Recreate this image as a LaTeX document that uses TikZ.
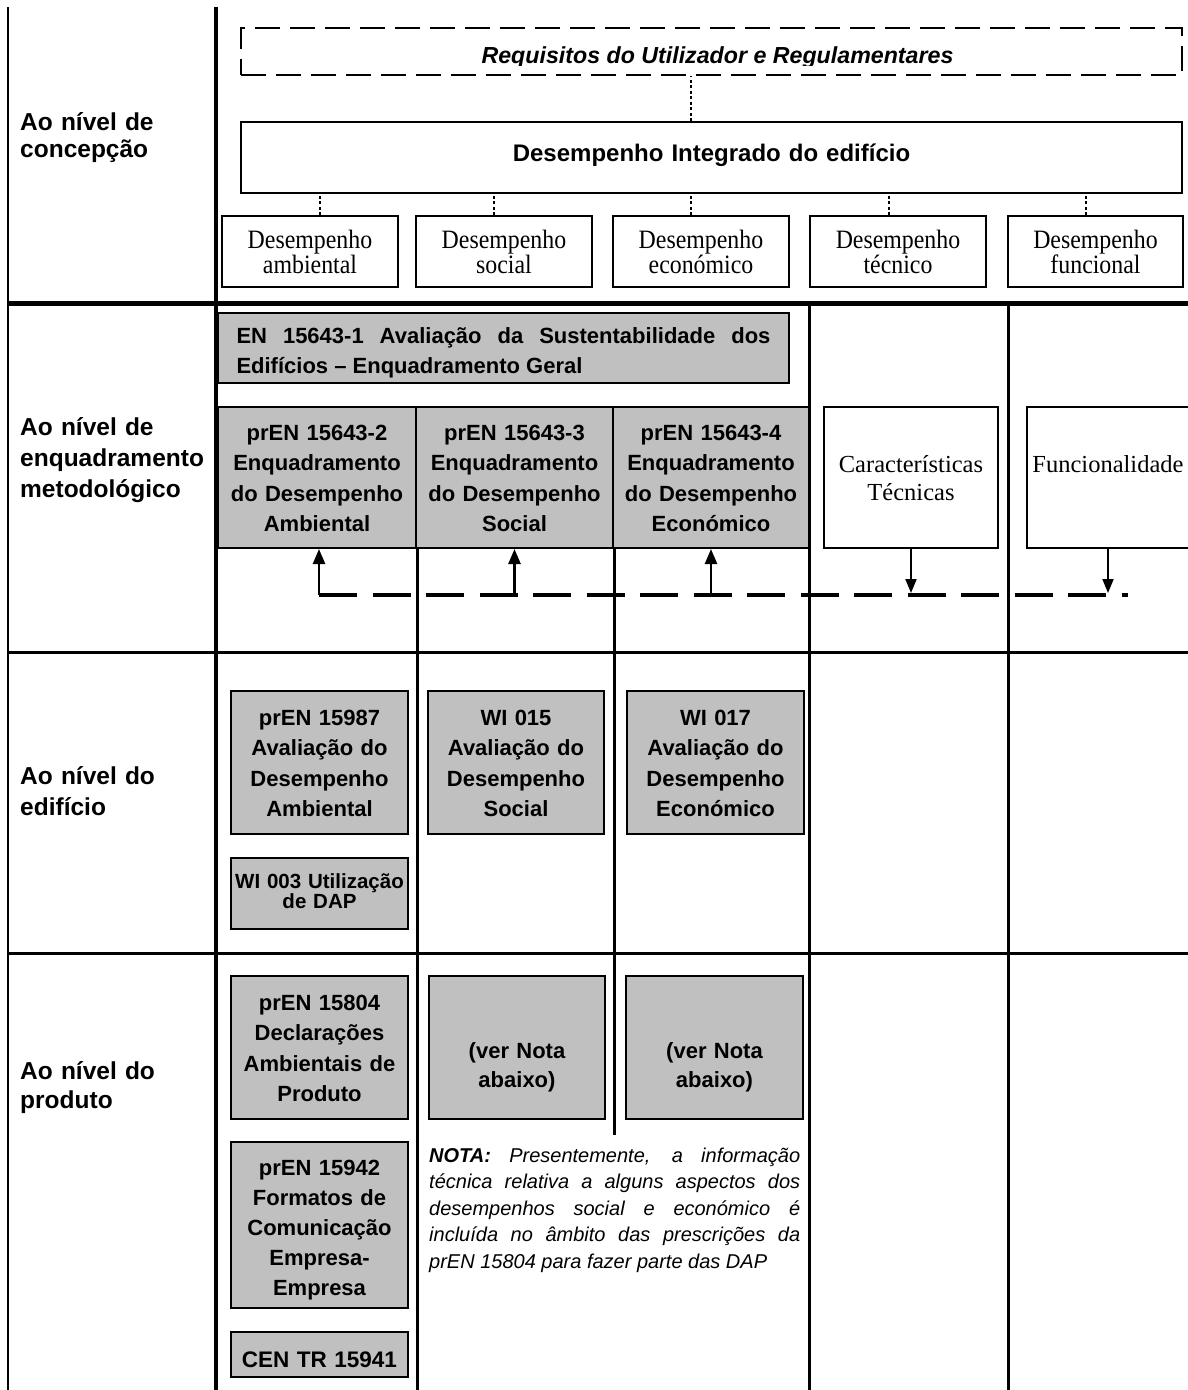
\documentclass[tikz,border=0pt]{standalone}
\usepackage{fontspec}
\setmainfont{Liberation Sans}
\newfontfamily\tnr{Liberation Serif}
\newfontfamily\tnrnarrow[FakeStretch=0.9]{Liberation Serif}
\usetikzlibrary{arrows.meta}
\definecolor{boxgray}{RGB}{192,192,192}
\hyphenpenalty=10000
\exhyphenpenalty=10000
\begin{document}
\begin{tikzpicture}[x=1pt,y=-1pt,
  lab/.style={anchor=base west, inner sep=0pt, text width=195pt, align=left},
  labfont/.style={font=\fontsize{24.5}{#1}\selectfont\bfseries},
  gbox/.style={draw=black, line width=2pt, fill=boxgray, inner sep=0pt, align=center, anchor=base,
    font=\fontsize{22}{30.5}\selectfont\bfseries},
  wbox/.style={draw=black, line width=2pt, fill=white, inner sep=0pt, align=center, anchor=base},
  perf/.style={wbox, text width=176pt, text height=32pt, text depth=39pt,
    font=\tnrnarrow\fontsize{26.5}{24}\selectfont},
  reqbox/.style={draw=black, line width=2.5pt, dash pattern=on 25pt off 10pt, inner sep=0pt},
  dotlink/.style={line width=2pt, dash pattern=on 3pt off 2.5pt},
  rule/.style={line width=3pt},
  bus/.style={line width=4pt, dash pattern=on 38pt off 15.5pt},
  upline/.style={line width=2.5pt, -{Triangle[length=15pt,width=12pt]}},
  downline/.style={line width=2pt, -{Triangle[length=14pt,width=11pt]}, shorten >=2pt}]

\useasboundingbox (0,0) rectangle (1188,1390);
\fill[white] (0,0) rectangle (1188,1390);

% table grid
\draw[line width=2.5pt] (8,7) -- (8,1390);
\draw[line width=3.5pt] (216,7) -- (216,1390);
\draw[line width=5pt] (8,303) -- (1188,303);
\draw[rule] (8,652) -- (1188,652);
\draw[rule] (8,953) -- (1188,953);
\draw[rule] (809,303) -- (809,1390);
\draw[rule] (1008,303) -- (1008,1390);

% row labels
\node[lab, labfont=27] (lab1) at (20,130) {Ao nível de\\concepção};
\node[lab, labfont=31] (lab2) at (20,435) {Ao nível de\\enquadramento\\metodológico};
\node[lab, labfont=31] (lab3) at (20,784) {Ao nível do\\edifício};
\node[lab, labfont=29] (lab4) at (20,1079) {Ao nível do\\produto};

% conception level
\node[reqbox, minimum width=941pt, minimum height=47pt] (req) at (711.5,51.5) {};
\begin{scope}
  \clip (241,28) rectangle (1182,65.5);
  \node[anchor=base, inner sep=0pt, font=\fontsize{23.2}{27}\selectfont\bfseries\itshape]
    (reqtxt) at (717.5,63) {Requisitos do Utilizador e Regulamentares};
\end{scope}
\node[wbox, text width=941pt, text height=39pt, text depth=32pt,
  font=\fontsize{24}{28}\selectfont\bfseries] (integ) at (711.5,161) {Desempenho Integrado do edifício};

\node[perf] (amb) at (310,248) {Desempenho\\ambiental};
\node[perf] (soc) at (504,248) {Desempenho\\social};
\node[perf] (eco) at (701,248) {Desempenho\\económico};
\node[perf] (tec) at (898,248) {Desempenho\\técnico};
\node[perf, text width=175pt] (fun) at (1095.5,248) {Desempenho\\funcional};

\draw[dotlink] ([xshift=-20.5pt]integ.north) -- ([xshift=-20.5pt]integ.north |- req.south);
\draw[dotlink] ([xshift=10pt]amb.north) -- ([xshift=10pt]amb.north |- integ.south);
\draw[dotlink] ([xshift=-10pt]soc.north) -- ([xshift=-10pt]soc.north |- integ.south);
\draw[dotlink] ([xshift=-10pt]eco.north) -- ([xshift=-10pt]eco.north |- integ.south);
\draw[dotlink] ([xshift=-9pt]tec.north) -- ([xshift=-9pt]tec.north |- integ.south);
\draw[dotlink] ([xshift=-9.5pt]fun.north) -- ([xshift=-9.5pt]fun.north |- integ.south);

% methodological framework level
\node[gbox, align=justify, text width=534pt, inner xsep=18.5pt, text height=30pt, text depth=40pt]
  (en1) at (503.5,343) {EN 15643-1 Avaliação da Sustentabilidade dos\linebreak Edifícios – Enquadramento Geral};
\node[gbox, text width=198pt, text height=33pt, text depth=108pt] (p2) at (317,440)
  {prEN 15643-2\\Enquadramento\\do Desempenho\\Ambiental};
\node[gbox, text width=197pt, text height=33pt, text depth=108pt] (p3) at (514.5,440)
  {prEN 15643-3\\Enquadramento\\do Desempenho\\Social};
\node[gbox, text width=196pt, text height=33pt, text depth=108pt] (p4) at (711,440)
  {prEN 15643-4\\Enquadramento\\do Desempenho\\Económico};
\node[wbox, text width=174pt, text height=65pt, text depth=76pt, font=\tnr\fontsize{24.5}{28}\selectfont]
  (car) at (911,472) {Características\\Técnicas};
\node[wbox, text width=162pt, text height=65pt, text depth=76pt, font=\tnr\fontsize{24.5}{28}\selectfont]
  (fnc) at (1108,472) {Funcionalidade};

\draw[rule] (p2.south east) -- (p2.south east |- 0,1390);
\draw[rule] (p3.south east) -- (p3.south east |- 0,1135);

\coordinate (busL) at (319,595);
\coordinate (busR) at (1128,595);
\draw[bus] (busL) -- (busR);
\draw[upline] (busL) -- (busL |- p2.south);
\draw[upline] (p3.south |- busL) -- (p3.south);
\draw[upline] (p4.south |- busL) -- (p4.south);
\draw[downline] (car.south) -- (car.south |- busL);
\draw[downline] (fnc.south) -- (fnc.south |- busL);

% building level
\node[gbox, text width=177pt, text height=34pt, text depth=109pt] (e1) at (319.5,725)
  {prEN 15987\\Avaliação do\\Desempenho\\Ambiental};
\node[gbox, text width=176pt, text height=34pt, text depth=109pt] (e2) at (516,725)
  {WI 015\\Avaliação do\\Desempenho\\Social};
\node[gbox, text width=177pt, text height=34pt, text depth=109pt] (e3) at (715.5,725)
  {WI 017\\Avaliação do\\Desempenho\\Económico};
\node[gbox, text width=177pt, text height=30pt, text depth=41pt, font=\fontsize{20.5}{20}\selectfont\bfseries]
  (wi3) at (319.5,888) {WI 003 Utilização\\de DAP};

% product level
\node[gbox, text width=177pt, text height=34pt, text depth=109pt] (r1) at (319.5,1010)
  {prEN 15804\\Declarações\\Ambientais de\\Produto};
\node[gbox, text width=176pt, text height=82pt, text depth=61pt, font=\fontsize{22}{29}\selectfont\bfseries]
  (r2) at (517,1058) {(ver Nota\\abaixo)};
\node[gbox, text width=177pt, text height=82pt, text depth=61pt, font=\fontsize{22}{29}\selectfont\bfseries]
  (r3) at (714.5,1058) {(ver Nota\\abaixo)};
\node[gbox, text width=177pt, text height=33pt, text depth=133pt, font=\fontsize{22}{30}\selectfont\bfseries]
  (r4) at (319.5,1175) {prEN 15942\\Formatos de\\Comunicação\\Empresa-\\Empresa};
\node[gbox, text width=177pt, text height=35pt, text depth=10pt, font=\fontsize{22.5}{27}\selectfont\bfseries]
  (r5) at (319.5,1367) {CEN TR 15941};

\node[anchor=base west, inner sep=0pt, text width=371pt, align=justify,
  font=\fontsize{20}{26.5}\selectfont\itshape] (nota) at (429,1162)
  {{\bfseries NOTA:} Presentemente, a informação\linebreak
   técnica relativa a alguns aspectos dos\linebreak
   desempenhos social e económico é\linebreak
   incluída no âmbito das prescrições da\linebreak
   prEN 15804 para fazer parte das DAP};
\end{tikzpicture}
\end{document}
